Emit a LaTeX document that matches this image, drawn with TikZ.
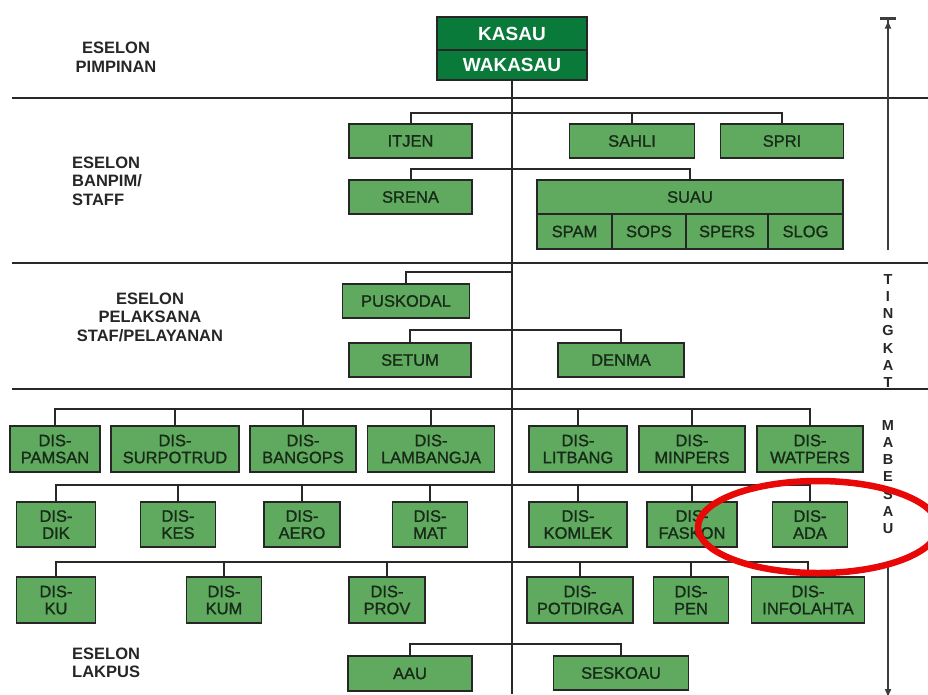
\documentclass[tikz,border=0pt]{standalone}
\usepackage{fontspec}
\setmainfont{Liberation Sans}
\newfontfamily\boxfont[BoldFont=Liberation Sans, BoldFeatures={FakeBold=1.2}]{Liberation Sans}
\usetikzlibrary{arrows.meta}
\definecolor{boxgreen}{RGB}{96,170,96}
\definecolor{darkgreen}{RGB}{10,122,58}
\definecolor{txt}{RGB}{24,42,24}
\definecolor{linegray}{RGB}{40,40,40}
\definecolor{redmark}{RGB}{232,8,8}
\begin{document}
\begin{tikzpicture}[x=1pt,y=-1pt,
  box/.style={draw=black!85, line width=1.9pt, fill=boxgreen, inner sep=0pt,
    align=center, text=txt, font=\boxfont\bfseries\fontsize{16.5}{17}\selectfont},
  kbox/.style={draw=black!85, line width=1.9pt, fill=darkgreen, inner sep=0pt,
    text=white, font=\bfseries\fontsize{19}{19}\selectfont},
  conn/.style={draw=linegray, line width=2pt},
  scaleline/.style={draw=linegray!90, line width=2.4pt},
  sepline/.style={draw=linegray, line width=2.4pt},
  lbl/.style={font=\bfseries\fontsize{16.5}{18.5}\selectfont, text=black!85, inner sep=0pt},
  vlet/.style={font=\bfseries\fontsize{14.5}{17.3}\selectfont, text=black!85, inner sep=0pt, align=center}
]
\useasboundingbox (0,0) rectangle (928,694);

% separators
\coordinate (s1l) at (12,98);  \coordinate (s1r) at (928,98);
\coordinate (s2l) at (12,263); \coordinate (s2r) at (928,263);
\coordinate (s3l) at (12,389); \coordinate (s3r) at (928,389);
\draw[sepline] (s1l) -- (s1r);
\draw[sepline] (s2l) -- (s2r);
\draw[sepline] (s3l) -- (s3r);

% left labels
\node[lbl, align=center] (lpim) at (116,57) {ESELON\\PIMPINAN};
\node[lbl, align=left, anchor=west] (lban) at (72,181) {ESELON\\BANPIM/\\STAFF};
\node[lbl, align=center] (lpel) at (150,317) {ESELON\\PELAKSANA\\STAF/PELAYANAN};
\node[lbl, align=left, anchor=west] (llak) at (72,663) {ESELON\\LAKPUS};

% top
\node[kbox, minimum width=150, minimum height=33] (kasau) at (512,33.5) {KASAU};
\node[kbox, minimum width=150, minimum height=30] (wakasau) at (512,65) {WAKASAU};
\coordinate (trunkend) at (512,694);
\draw[conn] (wakasau.south) -- (trunkend);

% trunk points
\coordinate (t1) at (512,113);
\coordinate (t2) at (512,169);
\coordinate (t3) at (512,272);
\coordinate (t4) at (512,330);
\coordinate (r1) at (512,409);
\coordinate (r2) at (512,485);
\coordinate (r3) at (512,562);
\coordinate (t5) at (512,644);

% banpim / staff
\node[box, minimum width=123, minimum height=34] (itjen) at (410.5,141) {ITJEN};
\node[box, minimum width=125, minimum height=34] (sahli) at (632,141) {SAHLI};
\node[box, minimum width=123, minimum height=34] (spri) at (782,141) {SPRI};
\node[box, minimum width=123, minimum height=34] (srena) at (410.5,197) {SRENA};
\node[box, minimum width=306, minimum height=34] (suau) at (690,197) {SUAU};
\node[box, minimum width=75, minimum height=35] (spam) at (574.5,231.5) {SPAM};
\node[box, minimum width=74, minimum height=35] (sops) at (649,231.5) {SOPS};
\node[box, minimum width=82, minimum height=35] (spers) at (727,231.5) {SPERS};
\node[box, minimum width=75, minimum height=35] (slog) at (805.5,231.5) {SLOG};
\draw[conn] (itjen.north) |- (t1) -| (spri.north);
\draw[conn] (sahli.north) -- (sahli.north |- t1);
\draw[conn] (srena.north) |- (t2) -| (suau.north);

% pelaksana
\node[box, minimum width=127, minimum height=34] (pusk) at (406,301) {PUSKODAL};
\node[box, minimum width=122, minimum height=34] (setum) at (410,360) {SETUM};
\node[box, minimum width=126, minimum height=34] (denma) at (621,360) {DENMA};
\draw[conn] (pusk.north) |- (t3);
\draw[conn] (setum.north) |- (t4) -| (denma.north);

% DIS row 1
\node[box, minimum width=90, minimum height=46] (pamsan) at (55,449) {DIS-\\PAMSAN};
\node[box, minimum width=128, minimum height=46] (surpo) at (175,449) {DIS-\\SURPOTRUD};
\node[box, minimum width=106, minimum height=46] (bangops) at (303,449) {DIS-\\BANGOPS};
\node[box, minimum width=127, minimum height=46] (lamb) at (431,449) {DIS-\\LAMBANGJA};
\node[box, minimum width=98, minimum height=46] (litbang) at (578,449) {DIS-\\LITBANG};
\node[box, minimum width=106, minimum height=46] (minpers) at (692,449) {DIS-\\MINPERS};
\node[box, minimum width=106, minimum height=46] (watpers) at (810,449) {DIS-\\WATPERS};
\draw[conn] (pamsan.north) |- (r1) -| (watpers.north);
\foreach \n in {surpo,bangops,lamb,litbang,minpers}
  \draw[conn] (\n.north) -- (\n.north |- r1);

% DIS row 2
\node[box, minimum width=79, minimum height=45] (dik) at (56,524.5) {DIS-\\DIK};
\node[box, minimum width=75, minimum height=45] (kes) at (178,524.5) {DIS-\\KES};
\node[box, minimum width=76, minimum height=45] (aero) at (302,524.5) {DIS-\\AERO};
\node[box, minimum width=75, minimum height=45] (mat) at (430,524.5) {DIS-\\MAT};
\node[box, minimum width=98, minimum height=45] (komlek) at (578,524.5) {DIS-\\KOMLEK};
\node[box, minimum width=90, minimum height=45] (faskon) at (692,524.5) {DIS-\\FASKON};
\node[box, minimum width=75, minimum height=45] (ada) at (810,524.5) {DIS-\\ADA};
\draw[conn] (dik.north) |- (r2) -| (ada.north);
\foreach \n in {kes,aero,mat,komlek,faskon}
  \draw[conn] (\n.north) -- (\n.north |- r2);

% DIS row 3
\node[box, minimum width=79, minimum height=46] (ku) at (56,600) {DIS-\\KU};
\node[box, minimum width=75, minimum height=46] (kum) at (224,600) {DIS-\\KUM};
\node[box, minimum width=76, minimum height=46] (prov) at (387,600) {DIS-\\PROV};
\node[box, minimum width=106, minimum height=46] (potd) at (580,600) {DIS-\\POTDIRGA};
\node[box, minimum width=75, minimum height=46] (pen) at (691,600) {DIS-\\PEN};
\node[box, minimum width=113, minimum height=46] (info) at (808,600) {DIS-\\INFOLAHTA};
\draw[conn] (ku.north) |- (r3) -| (info.north);
\foreach \n in {kum,prov,potd,pen}
  \draw[conn] (\n.north) -- (\n.north |- r3);

% lakpus
\node[box, minimum width=124, minimum height=35] (aau) at (410,673.5) {AAU};
\node[box, minimum width=135, minimum height=34] (seskoau) at (621,673) {SESKOAU};
\draw[conn] (aau.north) |- (t5) -| (seskoau.north);

% right scale
\node[vlet] (tingkat) at (888,331) {T\\I\\N\\G\\K\\A\\T};
\node[vlet] (mabesau) at (888,477) {M\\A\\B\\E\\S\\A\\U};
\coordinate (atop) at (888,17);
\coordinate (abrk) at (888,250);
\coordinate (bstart) at (888,562);
\coordinate (bend) at (888,698);
\draw[scaleline, -{Latex[length=9pt,width=7pt] Bar[width=16pt,line width=2.6pt]}] (abrk) -- (atop);
\draw[scaleline, -{Latex[length=9pt,width=7pt]}] (bstart) -- (bend);

% red mark
\draw[redmark, line width=6.5pt] (818,527) ellipse [x radius=120pt, y radius=46pt];
\end{tikzpicture}
\end{document}
